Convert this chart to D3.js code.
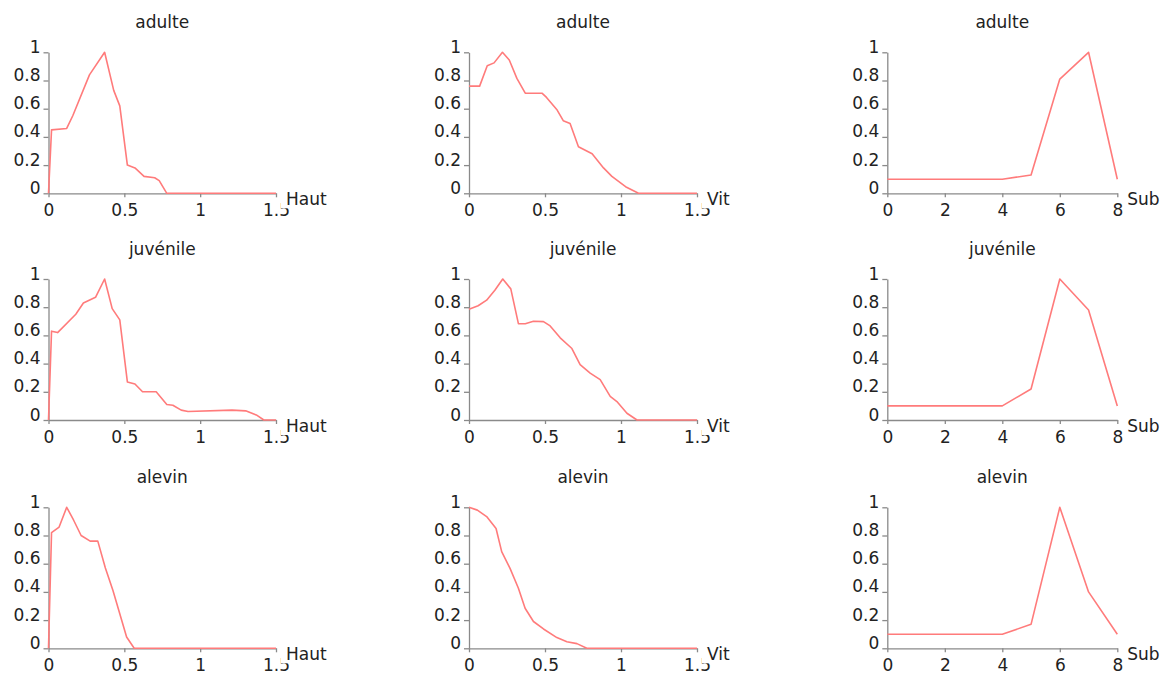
<!DOCTYPE html>
<html>
<head>
<meta charset="utf-8">
<script src="https://cdn.jsdelivr.net/npm/d3@7"></script>
<style>
  body { margin: 0; background: #fff; }
  text { font-family: "DejaVu Sans", sans-serif; fill: #222; }
</style>
</head>
<body>
<div id="chart"></div>
<script>
// --- DATA ---
const stages = ["adulte", "juvénile", "alevin"];
const variables = ["Haut", "Vit", "Sub"];

const contTicks = [0, 0.5, 1, 1.5];
const subTicks = [0, 2, 4, 6, 8];
const yTicks = [0, 0.2, 0.4, 0.6, 0.8, 1];
const subCategories = [0, 1, 2, 3, 4, 5, 6, 7, 8];

// [x, preference] pairs
const adulteHaut = [[0,0],[0.02,0.45],[0.12,0.46],[0.16,0.55],[0.27,0.84],[0.37,1.0],[0.43,0.73],[0.47,0.62],[0.52,0.2],[0.57,0.18],[0.63,0.12],[0.7,0.11],[0.73,0.09],[0.78,0],[1.5,0]];
const juvenileHaut = [[0,0],[0.02,0.63],[0.06,0.62],[0.18,0.75],[0.23,0.83],[0.31,0.87],[0.37,1.0],[0.42,0.79],[0.47,0.71],[0.52,0.27],[0.57,0.255],[0.62,0.2],[0.71,0.2],[0.78,0.11],[0.82,0.105],[0.875,0.07],[0.92,0.06],[1.21,0.07],[1.3,0.065],[1.37,0.036],[1.42,0],[1.5,0]];
const alevinHaut = [[0,0],[0.02,0.82],[0.07,0.86],[0.12,1.0],[0.165,0.91],[0.215,0.8],[0.275,0.76],[0.325,0.76],[0.375,0.57],[0.425,0.41],[0.515,0.08],[0.565,0],[1.5,0]];

const adulteVit = [[0,0.76],[0.07,0.76],[0.12,0.905],[0.165,0.925],[0.22,1.0],[0.265,0.945],[0.315,0.815],[0.37,0.71],[0.48,0.71],[0.51,0.68],[0.58,0.59],[0.62,0.515],[0.665,0.495],[0.72,0.33],[0.81,0.28],[0.885,0.18],[0.94,0.12],[1.03,0.047],[1.115,0],[1.5,0]];
const juvenileVit = [[0,0.786],[0.06,0.81],[0.116,0.85],[0.17,0.92],[0.222,1.0],[0.275,0.93],[0.325,0.683],[0.37,0.683],[0.424,0.7],[0.49,0.698],[0.534,0.667],[0.6,0.583],[0.677,0.507],[0.731,0.393],[0.797,0.333],[0.863,0.286],[0.929,0.167],[0.973,0.131],[1.039,0.048],[1.105,0],[1.5,0]];
const alevinVit = [[0,1.0],[0.055,0.98],[0.116,0.934],[0.178,0.85],[0.215,0.686],[0.27,0.567],[0.325,0.426],[0.369,0.284],[0.424,0.19],[0.49,0.137],[0.578,0.076],[0.644,0.047],[0.71,0.033],[0.775,0],[1.5,0]];

// preference per substrate class 0..8
const adulteSub = [0.1, 0.1, 0.1, 0.1, 0.1, 0.13, 0.81, 1, 0.1];
const juvenileSub = [0.1, 0.1, 0.1, 0.1, 0.1, 0.22, 1, 0.78, 0.1];
const alevinSub = [0.1, 0.1, 0.1, 0.1, 0.1, 0.17, 1, 0.4, 0.1];

const panelData = [
    [adulteHaut, adulteVit, subCategories.map((c, i) => [c, adulteSub[i]])],
    [juvenileHaut, juvenileVit, subCategories.map((c, i) => [c, juvenileSub[i]])],
    [alevinHaut, alevinVit, subCategories.map((c, i) => [c, alevinSub[i]])]
];

// --- LAYOUT ---
const width = 1169;
const height = 686;
const colLeft = [48.5, 469, 887.3];
const colWidth = [227.5, 228, 230];
const rowBottom = [193.3, 420, 648.3];
const plotHeight = 141;
const lineColor = "#ff7b7b";
const axisColor = "#8a8a8a";

const svg = d3.select("#chart").append("svg")
    .attr("width", width)
    .attr("height", height);

stages.forEach((stage, r) => {
    variables.forEach((variable, c) => {
        const left = colLeft[c];
        const bottom = rowBottom[r];
        const isSub = variable === "Sub";

        const x = d3.scaleLinear()
            .domain(isSub ? [0, 8] : [0, 1.5])
            .range([left, left + colWidth[c]]);
        const y = d3.scaleLinear()
            .domain([0, 1])
            .range([bottom, bottom - plotHeight]);

        const g = svg.append("g");

        // title
        g.append("text")
            .attr("x", left + colWidth[c] / 2)
            .attr("y", bottom - plotHeight - 24)
            .attr("text-anchor", "middle")
            .style("font-size", "17px")
            .text(stage);

        // y axis
        const yAxis = g.append("g")
            .attr("transform", `translate(${left},0)`)
            .call(d3.axisLeft(y).tickValues(yTicks).tickFormat(d3.format("~g"))
                .tickSize(5).tickSizeOuter(0).tickPadding(3));

        // x axis
        const xAxis = g.append("g")
            .attr("transform", `translate(0,${bottom})`)
            .call(d3.axisBottom(x).tickValues(isSub ? subTicks : contTicks).tickFormat(d3.format("~g"))
                .tickSize(4).tickSizeOuter(0).tickPadding(7));

        [yAxis, xAxis].forEach(a => {
            a.select(".domain").attr("stroke", axisColor).attr("stroke-width", 1.3);
            a.selectAll(".tick line").attr("stroke", axisColor).attr("stroke-width", 1.3);
            a.selectAll(".tick text")
                .attr("fill", "#222")
                .style("font-size", "17px")
                .style("font-family", "'DejaVu Sans', sans-serif");
        });
        yAxis.selectAll(".tick text").attr("dy", "0");

        // preference curve
        g.append("path")
            .datum(panelData[r][c])
            .attr("fill", "none")
            .attr("stroke", lineColor)
            .attr("stroke-width", 1.6)
            .attr("stroke-linejoin", "round")
            .attr("d", d3.line().x(d => x(d[0])).y(d => y(d[1])));

        // axis name with its white box, drawn over the last tick label
        const labelX = x.range()[1] + 10;
        const labelY = bottom + 12;
        const box = g.append("rect")
            .attr("fill", "#fff");
        const label = g.append("text")
            .attr("x", labelX)
            .attr("y", labelY)
            .style("font-size", "17px")
            .text(variable);
        const bb = label.node().getBBox();
        const boxPad = isSub ? 2 : 5;
        box.attr("x", labelX - boxPad)
            .attr("y", bottom + 2)
            .attr("width", bb.width + boxPad)
            .attr("height", labelY + 3 - bottom - 2);
    });
});
</script>
</body>
</html>
